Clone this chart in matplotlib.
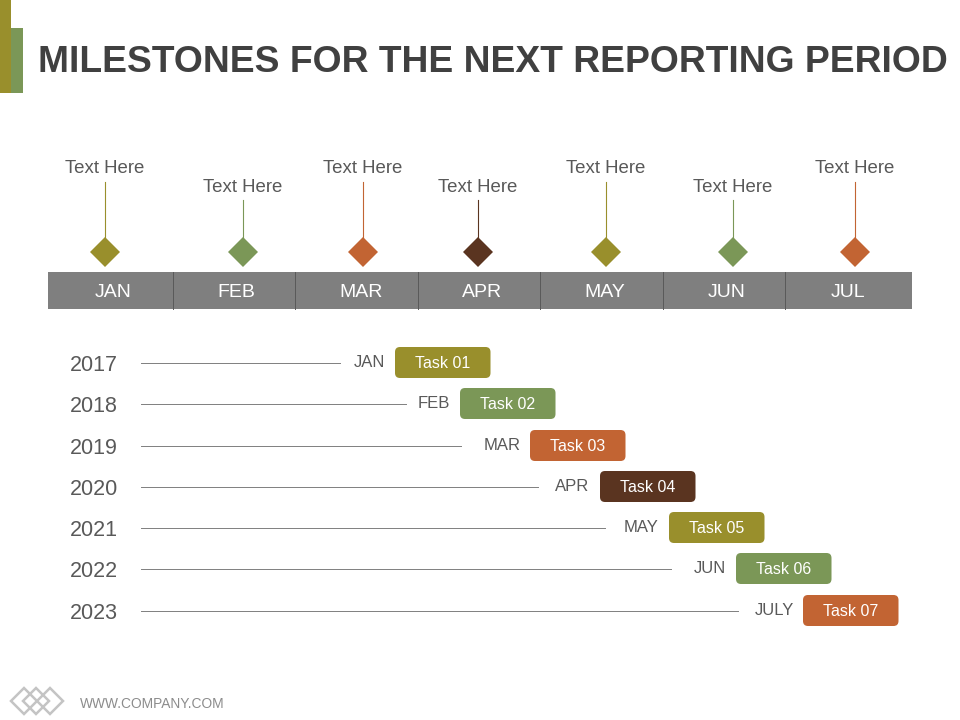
import matplotlib.pyplot as plt
from matplotlib.patches import FancyBboxPatch, Polygon, Rectangle

plt.rcParams['font.family'] = ['Liberation Sans', 'DejaVu Sans']

OLIVE = '#998f2c'
GREEN = '#7b9757'
ORANGE = '#c26433'
BROWN = '#5a3420'
DARK = '#404040'
TEXT = '#595959'

# top timeline
months = ['JAN', 'FEB', 'MAR', 'APR', 'MAY', 'JUN', 'JUL']
month_edges = [48, 173, 295, 418, 540, 663, 785, 912]
month_label_x = [113, 236, 361, 482, 605, 727, 848]
pin_x = [105, 243, 363, 478, 606, 733, 855]
pin_top = [182, 200, 182, 200, 182, 200, 182]
pin_label_y = [167, 186, 167, 186, 167, 186, 167]
pin_colors = [OLIVE, GREEN, ORANGE, BROWN, OLIVE, GREEN, ORANGE]

# lower task rows
years = ['2017', '2018', '2019', '2020', '2021', '2022', '2023']
task_months = ['JAN', 'FEB', 'MAR', 'APR', 'MAY', 'JUN', 'JULY']
tasks = ['Task 01', 'Task 02', 'Task 03', 'Task 04', 'Task 05', 'Task 06', 'Task 07']
row_y = [363, 404, 446, 487, 528, 569, 611]
line_end = [340, 406, 461, 538, 605, 671, 738]
month_x = [369, 434, 502, 572, 641, 710, 774]
task_left = [395, 460, 530, 600, 669, 736, 803]
task_w = 95.5

fig = plt.figure(figsize=(9.6, 7.2), dpi=100)
ax = fig.add_axes([0, 0, 1, 1])
ax.set_xlim(0, 960)
ax.set_ylim(720, 0)
ax.axis('off')

# corner bars
ax.add_patch(Rectangle((0, 28), 23, 65, color=GREEN, lw=0))
ax.add_patch(Rectangle((0, 0), 11, 93, color=OLIVE, lw=0))

ax.text(38, 72, 'MILESTONES FOR THE NEXT REPORTING PERIOD', fontsize=26.8,
        fontweight='bold', color=DARK, va='baseline', ha='left')

# month band
ax.add_patch(Rectangle((month_edges[0], 272), month_edges[-1] - month_edges[0], 37,
                       color='#7f7f7f', lw=0))
for x in month_edges[1:-1]:
    ax.plot([x, x], [272, 309], color='#595959', lw=0.7)
for x, m in zip(month_label_x, months):
    ax.text(x, 297, m, fontsize=14, color='white', ha='center', va='baseline')

# pins
for x, top, ly, c in zip(pin_x, pin_top, pin_label_y, pin_colors):
    ax.plot([x, x], [top, 240], color=c, lw=0.8)
    ax.add_patch(Polygon([(x, 237), (x + 15, 252), (x, 267), (x - 15, 252)], color=c, lw=0))
    ax.text(x, ly + 6, 'Text Here', fontsize=13.4, color=TEXT, ha='center', va='baseline')

# task rows
for i, y in enumerate(row_y):
    c = pin_colors[i]
    ax.text(94, y + 8, years[i], fontsize=15.5, color=TEXT, ha='center', va='baseline')
    ax.plot([141, line_end[i]], [y, y], color='#7f7f7f', lw=0.7)
    ax.text(month_x[i], y + 4, task_months[i], fontsize=12, color=TEXT, ha='center', va='baseline')
    ax.add_patch(FancyBboxPatch((task_left[i], y - 16), task_w, 31,
                                boxstyle='round,pad=0,rounding_size=5',
                                facecolor=c, edgecolor='none'))
    ax.text(task_left[i] + task_w / 2 - 0.5, y + 5, tasks[i], fontsize=11.5, color='white',
            ha='center', va='baseline')

# footer logo
for cx in [24, 36, 50]:
    ax.add_patch(Polygon([(cx, 688), (cx + 13, 701), (cx, 714), (cx - 13, 701)],
                         fill=False, edgecolor='#c4c4c4', lw=1.8))
ax.text(80, 708, 'WWW.COMPANY.COM', fontsize=9.9, color='#8c8c8c', ha='left', va='baseline')

fig.savefig('out.png', dpi=100)
